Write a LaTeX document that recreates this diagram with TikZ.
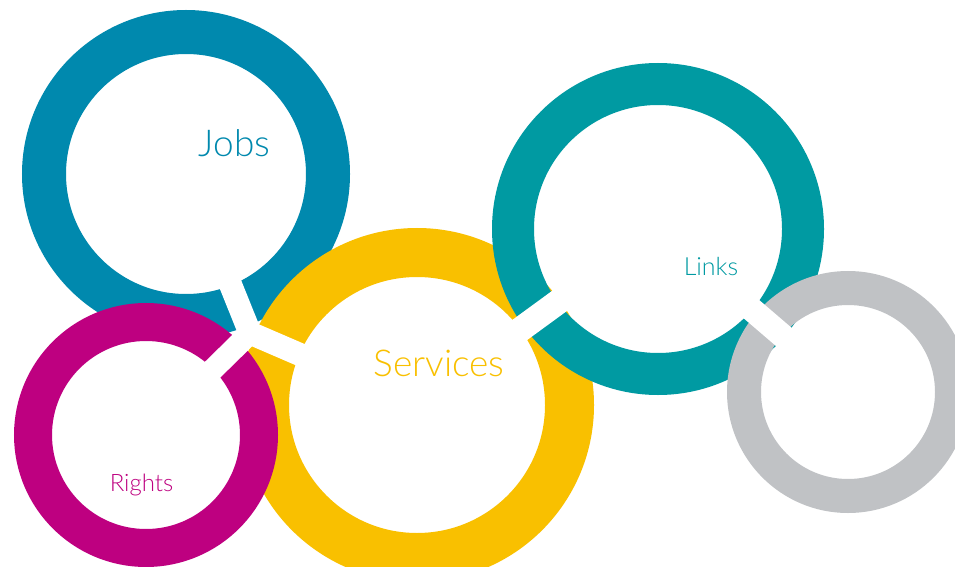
\documentclass[tikz,border=0pt]{standalone}
\usepackage{fontspec}
\setmainfont{Lato Light}
\definecolor{jobsblue}{RGB}{0,137,174}
\definecolor{rightsmag}{RGB}{190,0,128}
\definecolor{servyellow}{RGB}{249,192,0}
\definecolor{linksteal}{RGB}{0,154,162}
\definecolor{ringgray}{RGB}{192,194,197}
\begin{document}
\begin{tikzpicture}[x=1pt,y=-1pt,
  channel/.style={white, line width=#1, line cap=round},
  channel/.default=23pt,
  lbl/.style={anchor=base, inner sep=0pt}]
\useasboundingbox (0,0) rectangle (955,567);
\clip (0,0) rectangle (955,567);
\fill[white] (0,0) rectangle (955,567);
% centres
\coordinate (jobs) at (186,174);
\coordinate (serv) at (417,405);
\coordinate (rights) at (146,435);
\coordinate (links) at (658,229);
\coordinate (gray) at (848,392);
\coordinate (J) at (250,333);
% rings (back to front)
\draw[jobsblue, line width=44pt] (jobs) circle[radius=142pt];
\draw[servyellow, line width=49pt] (serv) circle[radius=152.5pt];
\draw[rightsmag, line width=38pt] (rights) circle[radius=113pt];
\draw[linksteal, line width=42pt] (links) circle[radius=145pt];
\draw[ringgray, line width=34pt] (gray) circle[radius=104pt];
% white channels
\draw[channel] (jobs) -- (J);
\draw[channel=22pt] (rights) -- (J);
\draw[channel] (serv) -- (J);
\draw[channel=25pt] (serv) -- (links);
\draw[channel=24pt] (links) -- (gray);
% labels
\node[lbl, text=jobsblue, font=\fontsize{37pt}{40pt}\selectfont] (jobslbl) at (234.5,157) {Jobs};
\node[lbl, text=servyellow, font=\fontsize{37pt}{40pt}\selectfont] (servlbl) at (439,376) {Services};
\node[lbl, text=linksteal, font=\fontsize{25pt}{28pt}\selectfont] (linkslbl) at (711,275) {Links};
\node[lbl, text=rightsmag, font=\fontsize{24pt}{27pt}\selectfont] (rightslbl) at (141.5,491) {Rights};
\end{tikzpicture}
\end{document}
